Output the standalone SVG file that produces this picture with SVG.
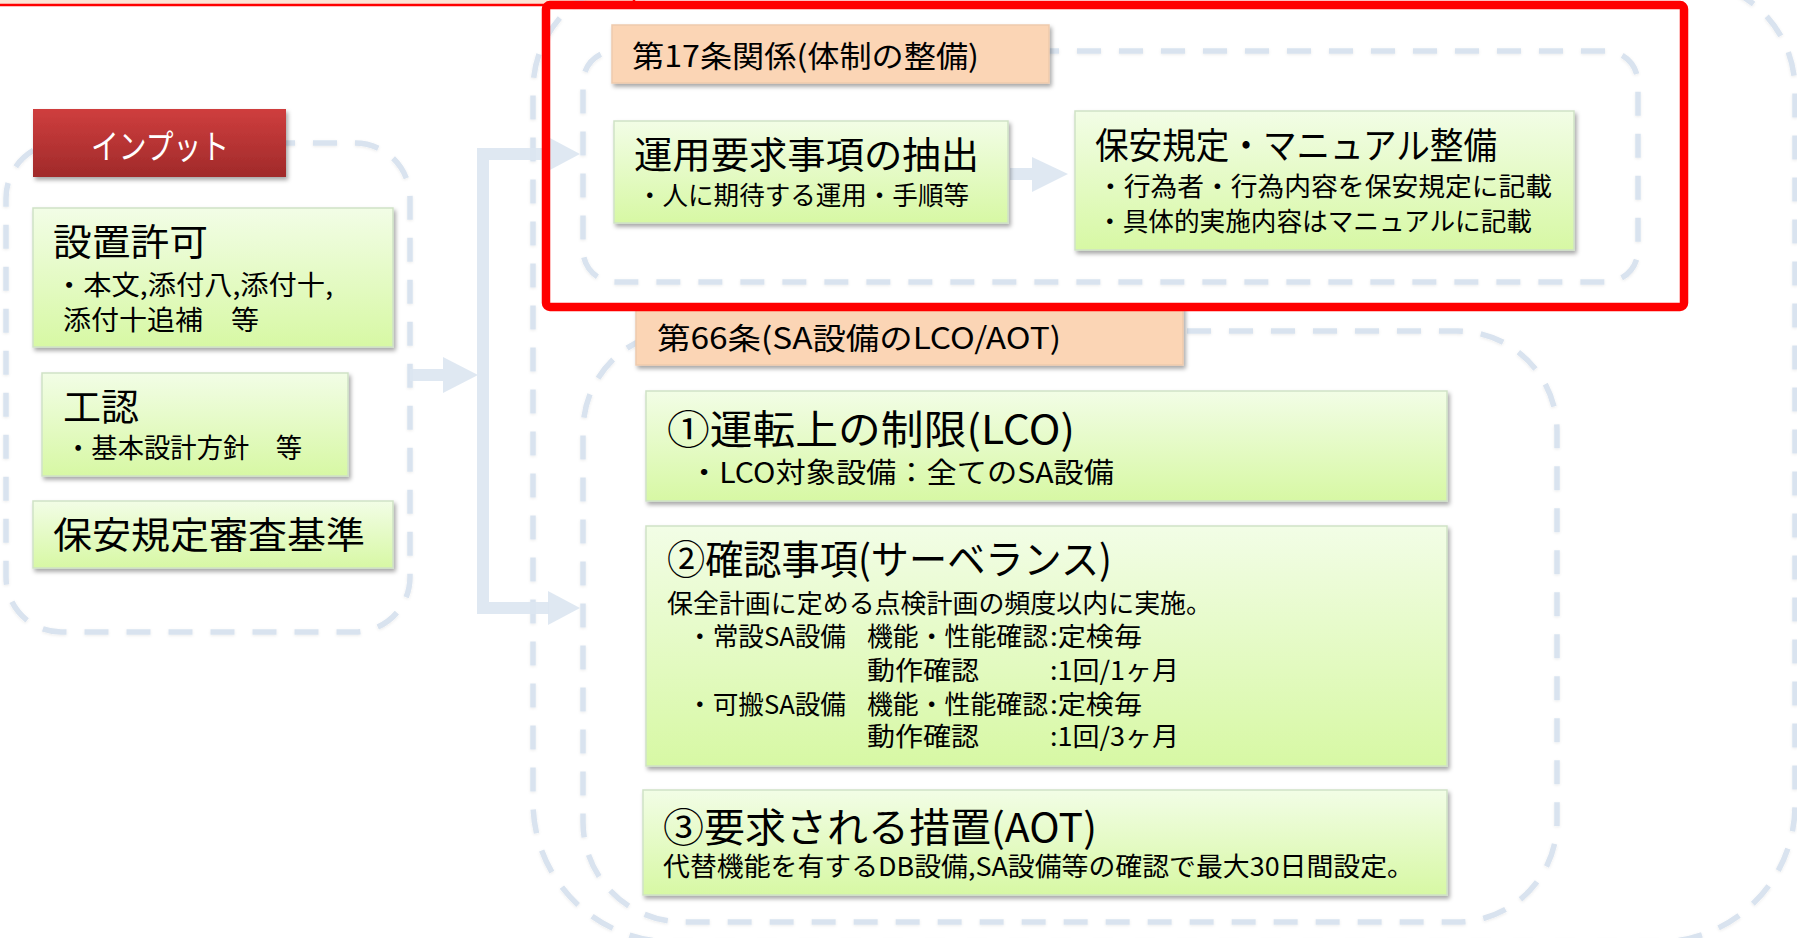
<svg xmlns="http://www.w3.org/2000/svg" width="1797" height="938" viewBox="0 0 1797 938">
<style>
text{font-family:"Noto Sans CJK JP","Noto Sans CJK SC",sans-serif;fill:#000;}
.grp{fill:none;stroke:#d9e3ef;stroke-width:5.5;stroke-dasharray:24 18;filter:url(#glow);}
.gbox{fill:url(#gGreen);stroke:#cfe2c6;stroke-width:1.5;filter:url(#sh);}
.pbox{fill:#fbd5b5;stroke:#eecaad;stroke-width:1.5;filter:url(#sh);}
.conn{fill:#dbe5f1;opacity:0.9;}
.t1{font-size:37px;}
.t2{font-size:26px;}
.t3{font-size:40px;}
.lab{font-size:30px;}
</style>
<defs>
<linearGradient id="gGreen" x1="0" y1="0" x2="0" y2="1">
<stop offset="0" stop-color="#f2fde6"/>
<stop offset="1" stop-color="#d7f8a4"/>
</linearGradient>
<linearGradient id="gRed" x1="0" y1="0" x2="0" y2="1">
<stop offset="0" stop-color="#cf3e3e"/>
<stop offset="1" stop-color="#a02a2a"/>
</linearGradient>
<filter id="sh" x="-10%" y="-10%" width="120%" height="130%">
<feDropShadow dx="2" dy="3" stdDeviation="2" flood-color="#000" flood-opacity="0.35"/>
</filter>
<filter id="glow" x="-5%" y="-5%" width="110%" height="110%">
<feDropShadow dx="0" dy="1" stdDeviation="1.5" flood-color="#000" flood-opacity="0.08"/>
</filter>
</defs>
<rect width="1797" height="938" fill="#ffffff"/>

<!-- top pink frame (mostly off-screen) -->
<rect x="-10" y="-40" width="644" height="45" fill="#fce4d6" stroke="#ff0000" stroke-width="2.5"/>

<!-- group frames -->
<g id="groups">
<rect id="grp-input" class="grp" x="6" y="143" width="404" height="489" rx="55" ry="55"/>
<path id="grp-outer" class="grp" d="M 643 -20 H 1685 A 110 110 0 0 1 1795 90 V 805 A 137 137 0 0 1 1658 942 H 673 A 140 140 0 0 1 533 802 V 90 A 110 110 0 0 1 643 -20 Z"/>
<rect id="grp-17" class="grp" x="583" y="51" width="1055" height="231" rx="32" ry="32"/>
<rect id="grp-66" class="grp" x="583" y="331" width="974" height="591" rx="100" ry="100"/>
</g>

<!-- connectors -->
<g id="connectors">
<path class="conn" d="M 410 369 H 443 V 357 L 478 375 L 443 393 V 381 H 410 Z"/>
<path d="M 549 154 H 483 V 608 H 549" fill="none" stroke="#dbe5f1" stroke-width="12" opacity="0.9"/>
<path class="conn" d="M 548 137 L 580 154 L 548 171 Z"/>
<path class="conn" d="M 548 591 L 580 608 L 548 625 Z"/>
<path class="conn" d="M 1010 168 H 1032 V 157 L 1068 174 L 1032 192 V 180 H 1010 Z"/>
</g>

<!-- input nodes -->
<g id="node-input">
<rect x="33" y="109" width="253" height="68" fill="url(#gRed)" filter="url(#sh)"/>
<text x="160" y="159" font-size="34" text-anchor="middle" style="fill:#ffffff" textLength="138" lengthAdjust="spacingAndGlyphs">インプット</text>
</g>
<g id="node-setchi">
<rect class="gbox" x="33" y="208" width="360" height="139"/>
<text><tspan class="t1" x="53" y="256" textLength="155" lengthAdjust="spacingAndGlyphs">設置許可</tspan><tspan x="55" y="295" font-size="27" textLength="278" lengthAdjust="spacingAndGlyphs">・本文,添付八,添付十,</tspan><tspan x="63" y="330" font-size="27" textLength="196" lengthAdjust="spacingAndGlyphs">添付十追補　等</tspan></text>
</g>
<g id="node-kouninn">
<rect class="gbox" x="42" y="373" width="306" height="103"/>
<text><tspan class="t1" x="63" y="421" textLength="76" lengthAdjust="spacingAndGlyphs">工認</tspan><tspan x="65" y="458" font-size="27" textLength="237" lengthAdjust="spacingAndGlyphs">・基本設計方針　等</tspan></text>
</g>
<g id="node-kijun">
<rect class="gbox" x="33" y="501" width="360" height="67"/>
<text class="t1" x="53" y="549" textLength="312" lengthAdjust="spacingAndGlyphs">保安規定審査基準</text>
</g>

<!-- 17条 -->
<g id="label-17">
<rect class="pbox" x="612" y="25" width="437" height="58"/>
<text class="lab" x="632" y="67" textLength="347" lengthAdjust="spacingAndGlyphs">第17条関係(体制の整備)</text>
</g>
<g id="node-unyou">
<rect class="gbox" x="614" y="121" width="394" height="102"/>
<text><tspan class="t1" x="634" y="169" textLength="345" lengthAdjust="spacingAndGlyphs">運用要求事項の抽出</tspan><tspan class="t2" x="637" y="205" textLength="332" lengthAdjust="spacingAndGlyphs">・人に期待する運用・手順等</tspan></text>
</g>
<g id="node-hoan">
<rect class="gbox" x="1075" y="111" width="499" height="139"/>
<text><tspan x="1095" y="159" font-size="36" textLength="402" lengthAdjust="spacingAndGlyphs">保安規定・マニュアル整備</tspan><tspan class="t2" x="1097" y="196" textLength="455" lengthAdjust="spacingAndGlyphs">・行為者・行為内容を保安規定に記載</tspan><tspan class="t2" x="1097" y="231" textLength="435" lengthAdjust="spacingAndGlyphs">・具体的実施内容はマニュアルに記載</tspan></text>
</g>

<!-- 66条 -->
<g id="label-66">
<rect class="pbox" x="636" y="306" width="547" height="59"/>
<text class="lab" x="657" y="349" textLength="404" lengthAdjust="spacingAndGlyphs">第66条(SA設備のLCO/AOT)</text>
</g>
<g id="node-lco">
<rect class="gbox" x="646" y="391" width="801" height="110"/>
<text><tspan class="t3" x="667" y="444" textLength="408" lengthAdjust="spacingAndGlyphs">①運転上の制限(LCO)</tspan><tspan x="689" y="483" font-size="28" textLength="425" lengthAdjust="spacingAndGlyphs">・LCO対象設備：全てのSA設備</tspan></text>
</g>
<g id="node-sr">
<rect class="gbox" x="646" y="526" width="801" height="240"/>
<text><tspan class="t3" x="667" y="574" textLength="445" lengthAdjust="spacingAndGlyphs">②確認事項(サーベランス)</tspan><tspan class="t2" x="667" y="613" textLength="545" lengthAdjust="spacingAndGlyphs">保全計画に定める点検計画の頻度以内に実施。</tspan><tspan class="t2" x="687" y="646" textLength="159" lengthAdjust="spacingAndGlyphs">・常設SA設備</tspan><tspan class="t2" x="867" y="646" textLength="181" lengthAdjust="spacingAndGlyphs">機能・性能確認</tspan><tspan class="t2" x="1050" y="646" textLength="92" lengthAdjust="spacingAndGlyphs">:定検毎</tspan><tspan class="t2" x="867" y="680" textLength="112" lengthAdjust="spacingAndGlyphs">動作確認</tspan><tspan class="t2" x="1050" y="680" textLength="129" lengthAdjust="spacingAndGlyphs">:1回/1ヶ月</tspan><tspan class="t2" x="687" y="714" textLength="159" lengthAdjust="spacingAndGlyphs">・可搬SA設備</tspan><tspan class="t2" x="867" y="714" textLength="181" lengthAdjust="spacingAndGlyphs">機能・性能確認</tspan><tspan class="t2" x="1050" y="714" textLength="92" lengthAdjust="spacingAndGlyphs">:定検毎</tspan><tspan class="t2" x="867" y="746" textLength="112" lengthAdjust="spacingAndGlyphs">動作確認</tspan><tspan class="t2" x="1050" y="746" textLength="129" lengthAdjust="spacingAndGlyphs">:1回/3ヶ月</tspan></text>
</g>
<g id="node-aot">
<rect class="gbox" x="643" y="790" width="804" height="105"/>
<text><tspan class="t3" x="663" y="842" textLength="434" lengthAdjust="spacingAndGlyphs">③要求される措置(AOT)</tspan><tspan class="t2" x="663" y="876" textLength="751" lengthAdjust="spacingAndGlyphs">代替機能を有するDB設備,SA設備等の確認で最大30日間設定。</tspan></text>
</g>

<!-- red highlight frame -->
<rect id="highlight" x="546" y="5" width="1138" height="302" rx="4" ry="4" fill="none" stroke="#ff0000" stroke-width="8.5"/>
</svg>
